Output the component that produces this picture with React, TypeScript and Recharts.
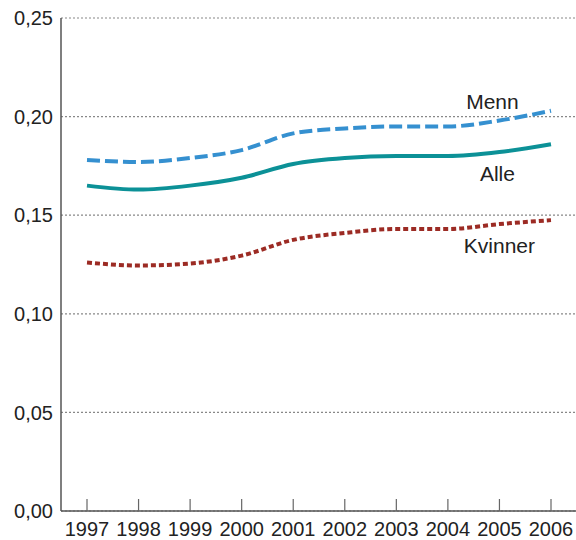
import React from 'react';
import {
  LineChart,
  Line,
  XAxis,
  YAxis,
  CartesianGrid
} from 'recharts';

const years = ['1997', '1998', '1999', '2000', '2001', '2002', '2003', '2004', '2005', '2006'];
const menn = [0.178, 0.177, 0.179, 0.183, 0.1915, 0.194, 0.195, 0.195, 0.198, 0.203];
const alle = [0.165, 0.163, 0.165, 0.169, 0.176, 0.179, 0.18, 0.18, 0.182, 0.186];
const kvinner = [0.126, 0.1245, 0.1255, 0.1295, 0.1375, 0.141, 0.143, 0.143, 0.1455, 0.1475];
const yTicks = [0, 0.05, 0.1, 0.15, 0.2, 0.25];

const FONT = '"Liberation Sans", Arial, Helvetica, sans-serif';
const TEXT = '#222';

const data = years.map((year, i) => ({
  year,
  menn: menn[i],
  alle: alle[i],
  kvinner: kvinner[i]
}));

// year label below the axis, tick mark pointing up into the plot
const YearTick = (props: any) => {
  const { x, y, payload } = props;
  const axisY = y - 11;
  return (
    <g>
      <line x1={x} x2={x} y1={axisY} y2={axisY - 12} stroke="#666" strokeWidth={1.2} />
      <text x={x} y={y} dy="0.71em" textAnchor="middle" fontSize={20} fontFamily={FONT} fill={TEXT}>
        {payload.value}
      </text>
    </g>
  );
};

// series name placed next to the 2005 point
const seriesLabel = (name: string, dx: number, dy: number) => (props: any) => {
  const { x, y, index } = props;
  if (index !== 8) return null;
  return (
    <text
      key={name}
      x={x + dx}
      y={y + dy}
      textAnchor="middle"
      dominantBaseline="central"
      fontSize={21}
      fontFamily={FONT}
      fill={TEXT}
    >
      {name}
    </text>
  );
};

export default function App() {
  return (
    <div style={{ position: 'absolute', left: 0, top: 0, width: 576, height: 540, background: '#fff' }}>
      <LineChart width={576} height={540} data={data} margin={{ top: 18, right: 0, bottom: 0, left: 0 }}>
        <CartesianGrid vertical={false} stroke="#888" strokeDasharray="2 2" strokeWidth={1.2} />
        <XAxis
          dataKey="year"
          height={29}
          padding={{ left: 26, right: 25 }}
          tickLine={false}
          tickSize={9}
          tickMargin={2}
          axisLine={{ stroke: '#555', strokeWidth: 1.5 }}
          tick={<YearTick />}
          interval={0}
        />
        <YAxis
          width={61}
          domain={[0, 0.25]}
          ticks={yTicks}
          tickLine={false}
          axisLine={{ stroke: '#555', strokeWidth: 1.5 }}
          tickFormatter={(v: number) => v.toFixed(2).replace('.', ',')}
          tick={{ fontSize: 20, fontFamily: FONT, fill: TEXT }}
        />
        <Line
          type="monotone"
          dataKey="menn"
          stroke="#3590d0"
          strokeWidth={4}
          strokeDasharray="13 5"
          dot={false}
          isAnimationActive={false}
          label={seriesLabel('Menn', -7, -19)}
        />
        <Line
          type="monotone"
          dataKey="alle"
          stroke="#0c9197"
          strokeWidth={4}
          dot={false}
          isAnimationActive={false}
          label={seriesLabel('Alle', -2, 21)}
        />
        <Line
          type="monotone"
          dataKey="kvinner"
          stroke="#9c2b24"
          strokeWidth={4}
          strokeDasharray="5 3"
          dot={false}
          isAnimationActive={false}
          label={seriesLabel('Kvinner', 0, 21)}
        />
      </LineChart>
    </div>
  );
}
